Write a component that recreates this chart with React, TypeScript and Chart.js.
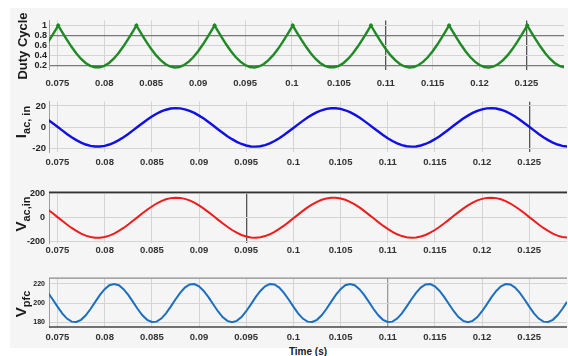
import { useEffect, useRef } from 'react';
import { Chart, registerables } from 'chart.js';

Chart.register(...registerables);

const FONT = "'Liberation Sans', Arial, Helvetica, sans-serif";

// ---------- data ----------
const time = [
  0.074, 0.0745, 0.075, 0.0755, 0.076, 0.0765, 0.077, 0.0775, 0.078, 0.0785,
  0.079, 0.0795, 0.08, 0.0805, 0.081, 0.0815, 0.082, 0.0825, 0.083, 0.0835,
  0.084, 0.0845, 0.085, 0.0855, 0.086, 0.0865, 0.087, 0.0875, 0.088, 0.0885,
  0.089, 0.0895, 0.09, 0.0905, 0.091, 0.0915, 0.092, 0.0925, 0.093, 0.0935,
  0.094, 0.0945, 0.095, 0.0955, 0.096, 0.0965, 0.097, 0.0975, 0.098, 0.0985,
  0.099, 0.0995, 0.1, 0.1005, 0.101, 0.1015, 0.102, 0.1025, 0.103, 0.1035,
  0.104, 0.1045, 0.105, 0.1055, 0.106, 0.1065, 0.107, 0.1075, 0.108, 0.1085,
  0.109, 0.1095, 0.11, 0.1105, 0.111, 0.1115, 0.112, 0.1125, 0.113, 0.1135,
  0.114, 0.1145, 0.115, 0.1155, 0.116, 0.1165, 0.117, 0.1175, 0.118, 0.1185,
  0.119, 0.1195, 0.12, 0.1205, 0.121, 0.1215, 0.122, 0.1225, 0.123, 0.1235,
  0.124, 0.1245, 0.125, 0.1255, 0.126, 0.1265, 0.127, 0.1275, 0.128, 0.1285,
  0.129,
];

const dutyCycle = [
  0.670, 0.819, 0.974, 0.870, 0.719, 0.578, 0.451, 0.344, 0.260, 0.203,
  0.174, 0.174, 0.203, 0.260, 0.344, 0.451, 0.578, 0.719, 0.870, 0.974,
  0.819, 0.670, 0.533, 0.413, 0.314, 0.238, 0.190, 0.170, 0.180, 0.219,
  0.286, 0.377, 0.491, 0.623, 0.768, 0.922, 0.922, 0.768, 0.623, 0.491,
  0.377, 0.286, 0.219, 0.180, 0.170, 0.190, 0.238, 0.314, 0.413, 0.533,
  0.670, 0.819, 0.974, 0.870, 0.719, 0.578, 0.451, 0.344, 0.260, 0.203,
  0.174, 0.174, 0.203, 0.260, 0.344, 0.451, 0.578, 0.719, 0.870, 0.974,
  0.819, 0.670, 0.533, 0.413, 0.314, 0.238, 0.190, 0.170, 0.180, 0.219,
  0.286, 0.377, 0.491, 0.623, 0.768, 0.922, 0.922, 0.768, 0.623, 0.491,
  0.377, 0.286, 0.219, 0.180, 0.170, 0.190, 0.238, 0.314, 0.413, 0.533,
  0.670, 0.819, 0.974, 0.870, 0.719, 0.578, 0.451, 0.344, 0.260, 0.203,
  0.174,
];

const dutyPeakTime = [0.07508, 0.08342, 0.09175, 0.10008, 0.10842, 0.11675, 0.12508];
const dutyPeakValue = [1.0, 1.0, 1.0, 1.0, 1.0, 1.0, 1.0];

const iacIn = [
  7.1, 3.9, 0.6, -2.8, -6.1, -9.2, -11.9, -14.2, -16.0, -17.3,
  -17.9, -17.9, -17.3, -16.0, -14.2, -11.9, -9.2, -6.1, -2.8, 0.6,
  3.9, 7.1, 10.1, 12.7, 14.9, 16.5, 17.6, 18.0, 17.8, 16.9,
  15.5, 13.5, 11.0, 8.2, 5.0, 1.7, -1.7, -5.0, -8.2, -11.0,
  -13.5, -15.5, -16.9, -17.8, -18.0, -17.6, -16.5, -14.9, -12.7, -10.1,
  -7.1, -3.9, -0.6, 2.8, 6.1, 9.2, 11.9, 14.2, 16.0, 17.3,
  17.9, 17.9, 17.3, 16.0, 14.2, 11.9, 9.2, 6.1, 2.8, -0.6,
  -3.9, -7.1, -10.1, -12.7, -14.9, -16.5, -17.6, -18.0, -17.8, -16.9,
  -15.5, -13.5, -11.0, -8.2, -5.0, -1.7, 1.7, 5.0, 8.2, 11.0,
  13.5, 15.5, 16.9, 17.8, 18.0, 17.6, 16.5, 14.9, 12.7, 10.1,
  7.1, 3.9, 0.6, -2.8, -6.1, -9.2, -11.9, -14.2, -16.0, -17.3,
  -17.9,
];

const vacIn = [
  67, 37, 5, -26, -57, -86, -111, -133, -150, -161,
  -167, -167, -161, -150, -133, -111, -86, -57, -26, 5,
  37, 67, 94, 119, 139, 154, 164, 168, 166, 158,
  145, 126, 103, 76, 47, 16, -16, -47, -76, -103,
  -126, -145, -158, -166, -168, -164, -154, -139, -119, -94,
  -67, -37, -5, 26, 57, 86, 111, 133, 150, 161,
  167, 167, 161, 150, 133, 111, 86, 57, 26, -5,
  -37, -67, -94, -119, -139, -154, -164, -168, -166, -158,
  -145, -126, -103, -76, -47, -16, 16, 47, 76, 103,
  126, 145, 158, 166, 168, 164, 154, 139, 119, 94,
  67, 37, 5, -26, -57, -86, -111, -133, -150, -161,
  -167,
];

const vPfc = [
  210.7, 203.7, 196.3, 189.3, 183.8, 180.6, 180.2, 182.5, 187.3, 193.8,
  201.3, 208.5, 214.6, 218.6, 220.0, 218.6, 214.6, 208.5, 201.3, 193.8,
  187.3, 182.5, 180.2, 180.6, 183.8, 189.3, 196.3, 203.7, 210.7, 216.2,
  219.4, 219.8, 217.5, 212.7, 206.2, 198.7, 191.5, 185.4, 181.4, 180.0,
  181.4, 185.4, 191.5, 198.7, 206.2, 212.7, 217.5, 219.8, 219.4, 216.2,
  210.7, 203.7, 196.3, 189.3, 183.8, 180.6, 180.2, 182.5, 187.3, 193.8,
  201.3, 208.5, 214.6, 218.6, 220.0, 218.6, 214.6, 208.5, 201.3, 193.8,
  187.3, 182.5, 180.2, 180.6, 183.8, 189.3, 196.3, 203.7, 210.7, 216.2,
  219.4, 219.8, 217.5, 212.7, 206.2, 198.7, 191.5, 185.4, 181.4, 180.0,
  181.4, 185.4, 191.5, 198.7, 206.2, 212.7, 217.5, 219.8, 219.4, 216.2,
  210.7, 203.7, 196.3, 189.3, 183.8, 180.6, 180.2, 182.5, 187.3, 193.8,
  201.3,
];

const xTicks = [0.075, 0.08, 0.085, 0.09, 0.095, 0.1, 0.105, 0.11, 0.115, 0.12, 0.125];
const xTickLabels = ['0.075', '0.08', '0.085', '0.09', '0.095', '0.1', '0.105', '0.11', '0.115', '0.12', '0.125'];

const dutyTicks = [0.2, 0.4, 0.6, 0.8, 1];
const dutyTickLabels = ['0.2', '0.4', '0.6', '0.8', '1'];
const iacTicks = [-20, 0, 20];
const iacTickLabels = ['-20', '0', '20'];
const vacTicks = [-200, 0, 200];
const vacTickLabels = ['-200', '0', '200'];
const vpfcTicks = [180, 200, 220];
const vpfcTickLabels = ['180', '200', '220'];

// ---------- layout ----------
const X_MIN = 0.0741;
const X_MAX = 0.129;
const PLOT_LEFT = 49;
const PLOT_RIGHT = 567;
const W = 568;

const framePlugin = {
  id: 'frame',
  beforeDatasetsDraw(chart: any, _args: any, opts: any) {
    const { ctx, chartArea } = chart;
    const { left, right, top, bottom } = chartArea;
    const seg = (c: string, w: number, x1: number, y1: number, x2: number, y2: number) => {
      ctx.save();
      ctx.strokeStyle = c;
      ctx.lineWidth = w;
      ctx.beginPath();
      ctx.moveTo(x1, y1);
      ctx.lineTo(x2, y2);
      ctx.stroke();
      ctx.restore();
    };
    if (opts && opts.top) seg(opts.top, opts.topWidth || 1, left, top, right, top);
    if (opts && opts.bottom) seg(opts.bottom, opts.bottomWidth || 1, left, bottom, right, bottom);
  },
};

function buildConfig(p: any) {
  const canvasTop = p.plotTop - 4;
  return {
    type: 'line',
    data: { datasets: p.datasets },
    options: {
      animation: false,
      responsive: false,
      maintainAspectRatio: false,
      events: [],
      layout: { padding: { top: p.plotTop - canvasTop, right: W - PLOT_RIGHT, left: 0, bottom: 0 } },
      plugins: { legend: { display: false }, tooltip: { enabled: false }, frame: p.frame || {} },
      elements: { point: { radius: 0 } },
      scales: {
        x: {
          type: 'linear',
          min: X_MIN,
          max: X_MAX,
          afterBuildTicks: (s: any) => {
            s.ticks = xTicks.map((v) => ({ value: v }));
          },
          afterFit: (s: any) => {
            s.height = p.xAxisH;
          },
          ticks: {
            autoSkip: false,
            maxRotation: 0,
            minRotation: 0,
            padding: p.xPad,
            color: '#333',
            font: { family: FONT, size: 9.5, weight: 'bold' },
            callback: (_v: any, i: number) => xTickLabels[i],
          },
          grid: {
            drawTicks: false,
            tickLength: 0,
            color: (ctx: any) => (ctx.tick && p.darkX.includes(ctx.tick.value) ? p.darkXColor || '#555' : '#d4d4d4'),
            lineWidth: (ctx: any) => (ctx.tick && p.darkX.includes(ctx.tick.value) ? 1.3 : 1),
          },
          border: p.xBorder || { display: false },
        },
        y: {
          type: 'linear',
          min: p.yMin,
          max: p.yMax,
          afterBuildTicks: (s: any) => {
            s.ticks = p.yTicks.map((v: number) => ({ value: v }));
          },
          afterFit: (s: any) => {
            s.width = PLOT_LEFT;
          },
          ticks: {
            autoSkip: false,
            padding: p.yPad,
            color: '#222',
            font: { family: FONT, size: p.yFont, weight: 'bold' },
            callback: (_v: any, i: number) => p.yTickLabels[i],
          },
          grid: {
            drawTicks: false,
            tickLength: 0,
            color: (ctx: any) => (ctx.tick && p.darkY.includes(ctx.tick.value) ? '#7a7a7a' : '#d4d4d4'),
            lineWidth: (ctx: any) => (ctx.tick && p.darkY.includes(ctx.tick.value) ? 1.3 : 1),
          },
          border: { display: true, color: '#a0a0a0', width: 1 },
        },
      },
    },
    plugins: [framePlugin],
  };
}

const line = (values: number[], color: string, width: number) => ({
  data: time.map((t, i) => ({ x: t, y: values[i] })),
  borderColor: color,
  borderWidth: width,
  pointRadius: 0,
  tension: 0,
  fill: false,
});

function panels() {
  const dutyPoints = time
    .map((t, i) => ({ x: t, y: dutyCycle[i] }))
    .concat(dutyPeakTime.map((t, i) => ({ x: t, y: dutyPeakValue[i] })))
    .sort((a, b) => a.x - b.x);
  return [
    {
      plotTop: 17, plotBottom: 70, xAxisH: 20, xPad: 8, yPad: 2, yFont: 9,
      yMin: 0.12, yMax: 1.1, yTicks: dutyTicks, yTickLabels: dutyTickLabels,
      darkX: [0.11, 0.125], darkY: [0.8, 0.2],
      datasets: [
        { data: dutyPoints, borderColor: '#1f8a24', borderWidth: 2.4, pointRadius: 0, tension: 0, fill: false },
        {
          data: dutyPeakTime.map((t, i) => ({ x: t, y: dutyPeakValue[i] })),
          showLine: false, pointRadius: 2, pointBackgroundColor: '#1f8a24', pointBorderWidth: 0,
        },
      ],
    },
    {
      plotTop: 97, plotBottom: 152, xAxisH: 18, xPad: 5, yPad: 3, yFont: 9.5,
      yMin: -23, yMax: 24, yTicks: iacTicks, yTickLabels: iacTickLabels,
      darkX: [0.125], darkY: [],
      datasets: [line(iacIn, '#1010e6', 2.4)],
    },
    {
      plotTop: 187, plotBottom: 243, xAxisH: 14, xPad: 2, yPad: 4, yFont: 9,
      yMin: -212, yMax: 212, yTicks: vacTicks, yTickLabels: vacTickLabels,
      darkX: [0.095], darkY: [],
      frame: { top: '#333', topWidth: 1.6 },
      datasets: [line(vacIn, '#ee1c1c', 2)],
    },
    {
      plotTop: 274, plotBottom: 327, xAxisH: 18, xPad: 5, yPad: 4, yFont: 7,
      yMin: 175, yMax: 226, yTicks: vpfcTicks, yTickLabels: vpfcTickLabels,
      darkX: [0.11], darkXColor: '#9a9a9a', darkY: [],
      frame: { top: '#8a8a8a', topWidth: 1.2, bottom: '#444', bottomWidth: 1.6 },
      datasets: [line(vPfc, '#1c6fbf', 2)],
    },
  ];
}

export default function App() {
  const refs = [useRef<HTMLCanvasElement>(null), useRef<HTMLCanvasElement>(null), useRef<HTMLCanvasElement>(null), useRef<HTMLCanvasElement>(null)];
  const ps = panels();

  useEffect(() => {
    const charts = ps.map((p, i) => new Chart(refs[i].current as HTMLCanvasElement, buildConfig(p) as any));
    return () => charts.forEach((c) => c.destroy());
  }, []);

  const title = (key: string, cx: number, cy: number, main: string, sub: string | null, mainSize: number, subSize: number) => (
    <div
      key={key}
      style={{
        position: 'absolute',
        left: cx,
        top: cy,
        transform: 'translate(-50%, -50%) rotate(-90deg)',
        whiteSpace: 'nowrap',
        fontFamily: FONT,
        fontWeight: 'bold',
        color: '#1a1a1a',
        lineHeight: 1,
      }}
    >
      <span style={{ fontSize: mainSize }}>{main}</span>
      {sub ? <span style={{ fontSize: subSize, position: 'relative', top: 4 }}>{sub}</span> : null}
    </div>
  );

  return (
    <div style={{ position: 'absolute', left: 0, top: 0, width: W, height: 356, background: '#ffffff', overflow: 'hidden' }}>
      <div style={{ position: 'absolute', left: 10, top: 8, width: W - 10, height: 340, background: '#f5f5f5' }} />
      {ps.map((p, i) => {
        const top = p.plotTop - 4;
        const h = p.plotBottom + p.xAxisH - top;
        return (
          <canvas
            key={i}
            ref={refs[i]}
            width={W}
            height={h}
            style={{ position: 'absolute', left: 0, top, width: W, height: h }}
          />
        );
      })}
      {title('t1', 22, 46, 'Duty Cycle', null, 13, 0)}
      {title('t2', 21, 122, 'I', 'ac, in', 15, 11)}
      {title('t3', 21, 214, 'V', 'ac,in', 15, 11)}
      {title('t4', 21, 304, 'V', 'pfc', 15, 11)}
      <div
        style={{
          position: 'absolute',
          left: 308,
          top: 351,
          transform: 'translate(-50%, -50%)',
          whiteSpace: 'nowrap',
          fontFamily: FONT,
          fontWeight: 'bold',
          fontSize: 10,
          color: '#222',
        }}
      >
        Time (s)
      </div>
    </div>
  );
}
